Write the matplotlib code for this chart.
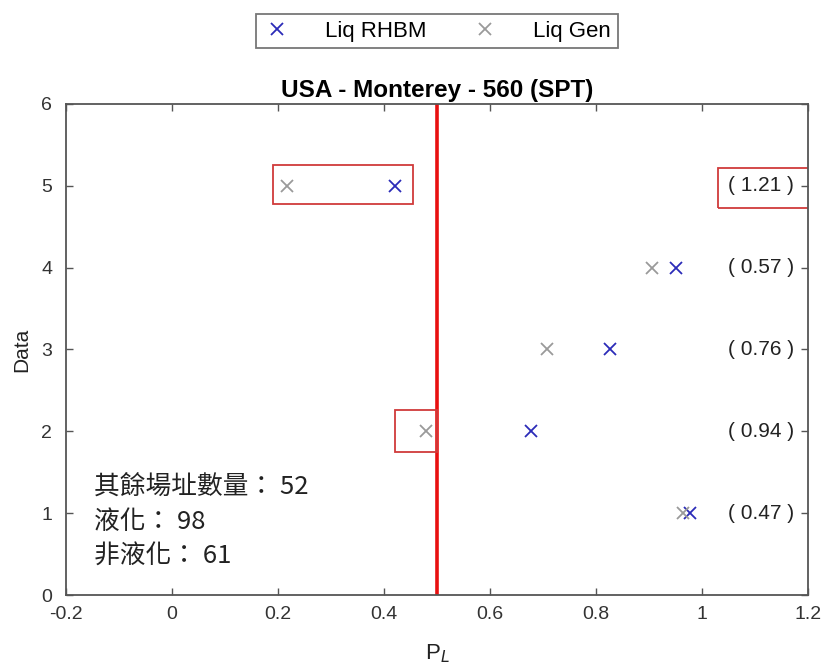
import matplotlib
matplotlib.use("Agg")
import matplotlib.pyplot as plt
from matplotlib.patches import Rectangle

plt.rcParams['font.family'] = ['Liberation Sans', 'Noto Sans CJK TC', 'DejaVu Sans']

rows = [1, 2, 3, 4, 5]
liq_rhbm = [0.977, 0.677, 0.826, 0.951, 0.42]
liq_gen = [0.964, 0.48, 0.708, 0.906, 0.217]
ratio_labels = ["( 0.47 )", "( 0.94 )", "( 0.76 )", "( 0.57 )", "( 1.21 )"]
threshold = 0.5
info_lines = ["其餘場址數量： 52", "液化： 98", "非液化： 61"]
title = "USA - Monterey - 560 (SPT)"
xticks = [-0.2, 0, 0.2, 0.4, 0.6, 0.8, 1, 1.2]
xtick_labels = ["-0.2", "0", "0.2", "0.4", "0.6", "0.8", "1", "1.2"]
yticks = [0, 1, 2, 3, 4, 5, 6]
# highlight boxes: (x0, y0, width, height)
boxes = [(0.19, 4.78, 0.265, 0.47), (0.42, 1.75, 0.08, 0.51), (1.03, 4.73, 0.25, 0.49)]

fig = plt.figure(figsize=(8.27, 6.64), dpi=100)
ax = fig.add_axes([0.0798, 0.1039, 0.897, 0.7395])

axc = '#555555'
ax.axvline(threshold, color='#e81010', lw=2.6, zorder=1)
ax.plot(liq_rhbm, rows, 'x', color='#2b2bb8', ms=8.5, mew=1.3, label='Liq RHBM', zorder=3)
ax.plot(liq_gen, rows, 'x', color='#9a9a9a', ms=8.5, mew=1.3, label='Liq Gen', zorder=3)

for (x0, y0, w, h) in boxes:
    ax.add_patch(Rectangle((x0, y0), w, h, fill=False, edgecolor='#d03a3a', lw=1.3, zorder=2))

for r, t in zip(rows, ratio_labels):
    ax.text(1.112, r, t, ha='center', va='center', fontsize=15, color='#222222')

for i, line in enumerate(info_lines):
    ax.text(-0.148, 1.32 - i * 0.425, line, ha='left', va='center', fontsize=18.5,
            family=['Noto Sans CJK TC', 'DejaVu Sans'], color='#222222')

ax.set_xlim(-0.2, 1.2)
ax.set_ylim(0, 6)
ax.set_xticks(xticks)
ax.set_xticklabels(xtick_labels)
ax.set_yticks(yticks)
ax.tick_params(direction='in', top=True, right=True, labelsize=14, labelcolor='#333333',
               length=5, width=1, color=axc)
ax.tick_params(axis='x', pad=8)
ax.tick_params(axis='y', pad=10)
for s in ax.spines.values():
    s.set_color(axc)
    s.set_linewidth(1.3)
ax.set_ylabel('Data', fontsize=15, color='#222222', labelpad=7)
ax.set_xlabel('P$_L$', fontsize=16, color='#222222', labelpad=14)
ax.set_title(title, fontsize=17.5, fontweight='bold', pad=5)

leg = ax.legend(loc='lower center', bbox_to_anchor=(0.5, 1.113), ncol=2, fontsize=16,
                frameon=True, fancybox=False, edgecolor='#555555', handlelength=1.3,
                columnspacing=2.0, borderpad=0.3, handletextpad=1.5, borderaxespad=0.0)
leg.get_frame().set_linewidth(1.3)

fig.savefig('out.png', dpi=100, facecolor='white')
